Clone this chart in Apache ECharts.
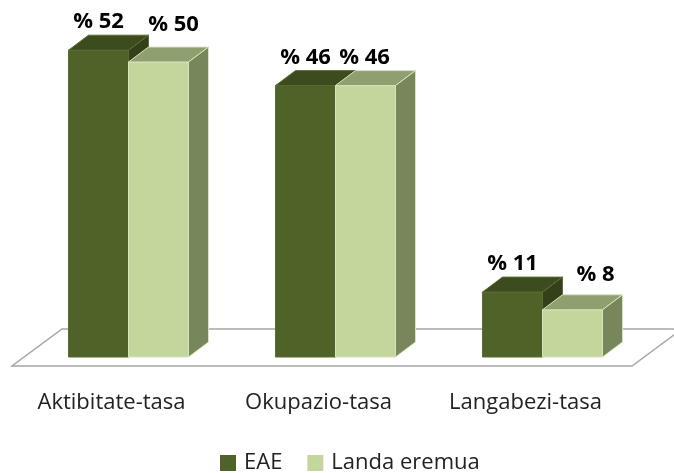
<!DOCTYPE html>
<html>
<head>
<meta charset="utf-8">
<script src="https://cdn.jsdelivr.net/npm/echarts@6/dist/echarts.min.js"></script>
<style>
  html, body { margin: 0; padding: 0; background: #fff; }
  #chart { width: 674px; height: 473px; }
</style>
</head>
<body>
<div id="chart"></div>
<script>
var categories = ["Aktibitate-tasa", "Okupazio-tasa", "Langabezi-tasa"];
var eaeValues = [52, 46, 11];
var landaValues = [50, 46, 8];
var seriesNames = ["EAE", "Landa eremua"];

var DX = 20, DY = -15; // depth of the 3d bars
var FONT = '"Open Sans", "Noto Sans", sans-serif';

var eaeColors = { front: "#4F6228", top: "#3D4C1E", side: "#334019", edge: "#5A6E30" };
var landaColors = { front: "#C3D69B", top: "#8E9F70", side: "#77875B", edge: "#D7E4BD" };

// label placement nudges (px), per category, as excel put them
var eaeLabelShift = [[0, -28], [0, -28], [0, -28]];
var landaLabelShift = [[15, -37], [-1, -28], [23, -35]];

function makeBarRenderer(colors, side, shifts) {
  return function (params, api) {
    var idx = api.value(0);
    var val = api.value(1);
    var base = api.coord([idx, 0]);
    var top = api.coord([idx, val]);
    var w = api.size([1, 0])[0] * 0.29;
    var x0 = side === 0 ? base[0] - w : base[0];
    var x1 = x0 + w;
    var yb = base[1], yt = top[1];
    var st = { stroke: colors.edge, lineWidth: 1 };
    var sh = shifts[params.dataIndex];
    return {
      type: "group",
      children: [
        { type: "rect", shape: { x: x0, y: yt, width: w, height: yb - yt },
          style: Object.assign({ fill: colors.front }, st) },
        { type: "polygon", shape: { points: [[x0, yt], [x0 + DX, yt + DY], [x1 + DX, yt + DY], [x1, yt]] },
          style: Object.assign({ fill: colors.top }, st) },
        { type: "polygon", shape: { points: [[x1, yt], [x1 + DX, yt + DY], [x1 + DX, yb + DY], [x1, yb]] },
          style: Object.assign({ fill: colors.side }, st) },
        { type: "text", x: x0 + w / 2 + sh[0], y: yt + sh[1],
          style: { text: "% " + val, fill: "#000", font: "bold 22px " + FONT,
                   align: "center", verticalAlign: "middle" } }
      ]
    };
  };
}

function renderFloor(params, api) {
  var cs = params.coordSys;
  var yf = cs.y + cs.height + 9;
  var xl = cs.x - 13, xr = cs.x + cs.width - 14;
  return {
    type: "polygon",
    shape: { points: [[xl, yf], [xr, yf], [xr + 50, yf - 37], [xl + 50, yf - 37]] },
    style: { fill: "#fff", stroke: "#A6A6A6", lineWidth: 1.5 }
  };
}

var chart = echarts.init(document.getElementById("chart"));
chart.setOption({
  animation: false,
  grid: { left: 25, right: 28, top: 3, bottom: 116 },
  legend: {
    data: seriesNames,
    left: 215,
    bottom: -6,
    icon: "rect",
    itemWidth: 16,
    itemHeight: 16,
    itemGap: 25,
    textStyle: { fontFamily: FONT, fontSize: 22, color: "#222", padding: [0, 0, 0, 3] }
  },
  xAxis: {
    type: "category",
    data: categories,
    axisLine: { show: false },
    axisTick: { show: false },
    axisLabel: { fontFamily: FONT, fontSize: 22, color: "#222", margin: 35, padding: [0, 34, 0, 0] }
  },
  yAxis: { type: "value", min: 0, max: 60, show: false },
  series: [
    { name: "floor", type: "custom", renderItem: renderFloor, data: [[0, 0]], silent: true, z: 1 },
    { name: seriesNames[0], type: "custom", renderItem: makeBarRenderer(eaeColors, 0, eaeLabelShift),
      itemStyle: { color: eaeColors.front }, data: eaeValues.map(function (v, i) { return [i, v]; }), z: 2 },
    { name: seriesNames[1], type: "custom", renderItem: makeBarRenderer(landaColors, 1, landaLabelShift),
      itemStyle: { color: landaColors.front }, data: landaValues.map(function (v, i) { return [i, v]; }), z: 3 }
  ]
});
</script>
</body>
</html>
